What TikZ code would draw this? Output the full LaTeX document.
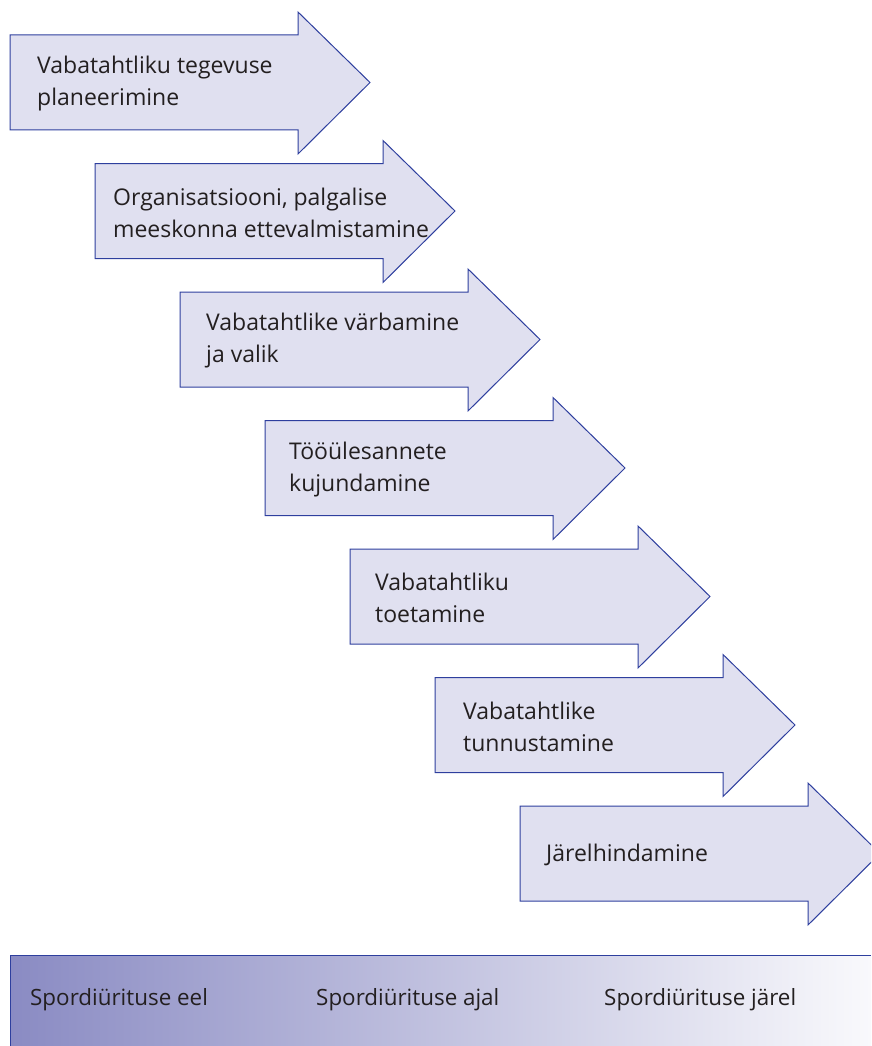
\documentclass[tikz,border=0pt]{standalone}
\usepackage{fontspec}
\setmainfont{Open Sans}
\definecolor{arrowfill}{HTML}{E0E0F0}
\definecolor{arrowline}{HTML}{2E3F9E}
\definecolor{txt}{HTML}{231F20}
\definecolor{barleft}{HTML}{8A8BC3}
\definecolor{barright}{HTML}{F9F9FC}
\begin{document}
\begin{tikzpicture}[x=1pt,y=-1pt,
  arrowshape/.style={draw=arrowline,fill=arrowfill,line width=1pt,line join=miter},
  steplabel/.style={anchor=west,align=left,text=txt,font=\fontsize{23}{32}\selectfont,inner sep=0pt},
  barlabel/.style={anchor=west,text=txt,font=\fontsize{22.4}{26}\selectfont,inner sep=0pt}]
\useasboundingbox (0,0) rectangle (871,1046);
\clip (0,0) rectangle (871,1046);
\foreach \t/\o [count=\i from 0] in {
  {Vabatahtliku tegevuse\\planeerimine}/27,
  {Organisatsiooni, palgalise\\meeskonna ettevalmistamine}/18,
  {Vabatahtlike värbamine\\ja valik}/26,
  {Tööülesannete\\kujundamine}/24,
  {Vabatahtliku\\toetamine}/25,
  {Vabatahtlike\\tunnustamine}/28,
  {Järelhindamine}/26}{
  \pgfmathsetmacro{\L}{10+85*\i}
  \pgfmathsetmacro{\T}{35+128.5*\i}
  \path[arrowshape] (\L,\T) -- (\L+288,\T) -- (\L+288,\T-23) -- (\L+360,\T+47.5)
     -- (\L+288,\T+119) -- (\L+288,\T+95) -- (\L,\T+95) -- cycle;
  \node[steplabel] (step\i) at (\L+\o,\T+49) {\t};
}
\shade[left color=barleft,right color=barright] (10,955) rectangle (871,1046);
\draw[arrowline,line width=1pt] (10,1046) -- (10,955) -- (871,955);
\node[barlabel] (pre) at (30,1000) {Spordiürituse eel};
\node[barlabel] (during) at (316,1000) {Spordiürituse ajal};
\node[barlabel] (post) at (604,1000) {Spordiürituse järel};
\end{tikzpicture}
\end{document}
